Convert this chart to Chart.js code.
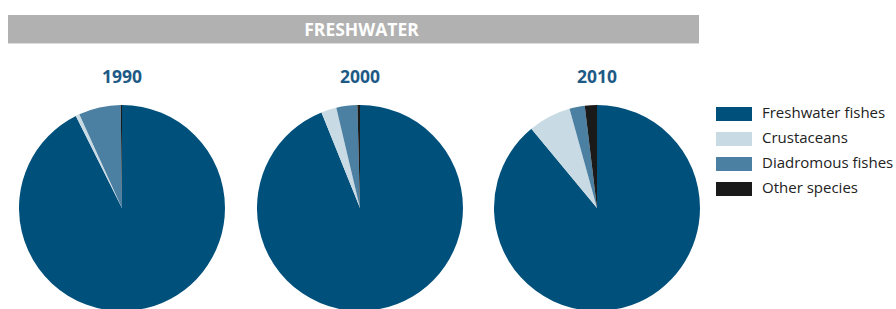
<!DOCTYPE html>
<html><head><meta charset="utf-8">
<script src="https://cdn.jsdelivr.net/npm/chart.js@4"></script>
<style>
html,body{margin:0;padding:0;width:896px;height:309px;overflow:hidden;background:#fff;font-family:"Open Sans","Noto Sans",sans-serif;}
#banner{position:absolute;left:8px;top:15px;width:691px;height:28px;background:#b1b1b1;border-bottom:1px solid #dcdcdc;color:#fff;font-weight:700;font-size:17.5px;line-height:29px;text-align:center;box-sizing:content-box;}
#banner span{position:relative;left:8px;}
.yr{position:absolute;width:120px;text-align:center;top:67px;font-weight:700;font-size:17.5px;line-height:18px;color:#1d5a86;}
.pie{position:absolute;width:206px;height:206px;}
#legend{position:absolute;left:716px;top:107px;font-size:15px;color:#222;}
.li{position:relative;height:25px;}
.li span.b{position:absolute;left:0;top:0;width:36px;height:13.5px;}
.li span.t{position:absolute;left:46px;top:-1.6px;line-height:15px;white-space:nowrap;}
</style></head>
<body>
<div id="banner"><span>FRESHWATER</span></div>
<div id="root"></div>
<div id="legend"></div>
<script>
const categories = ["Freshwater fishes","Crustaceans","Diadromous fishes","Other species"];
const years = ["1990","2000","2010"];
const values1990 = [92.6, 0.6, 6.6, 0.2];
const values2000 = [93.9, 2.4, 3.3, 0.4];
const values2010 = [89.0, 6.7, 2.4, 1.9];
const colors = ["#00507c","#c8dae3","#4b80a2","#1a1a1a"];
const series = [values1990, values2000, values2010];
const centersX = [122, 360, 597];
const centerY = 208, R = 103;
const root = document.getElementById('root');
years.forEach((y,i)=>{
  const t = document.createElement('div');
  t.className='yr'; t.textContent=y; t.style.left=(centersX[i]-60)+'px';
  root.appendChild(t);
  const c = document.createElement('canvas');
  c.className='pie';
  c.style.left=(centersX[i]-R)+'px'; c.style.top=(centerY-R)+'px';
  c.width=2*R; c.height=2*R;
  root.appendChild(c);
  new Chart(c,{type:'pie',data:{labels:categories,datasets:[{data:series[i],backgroundColor:colors,borderWidth:0}]},
    options:{responsive:false,animation:false,layout:{padding:0},plugins:{legend:{display:false},tooltip:{enabled:false},title:{display:false}}}});
});
const lg = document.getElementById('legend');
categories.forEach((c,i)=>{
  const d=document.createElement('div'); d.className='li';
  d.innerHTML='<span class="b" style="background:'+colors[i]+'"></span><span class="t">'+c+'</span>';
  lg.appendChild(d);
});
</script>
</body></html>
